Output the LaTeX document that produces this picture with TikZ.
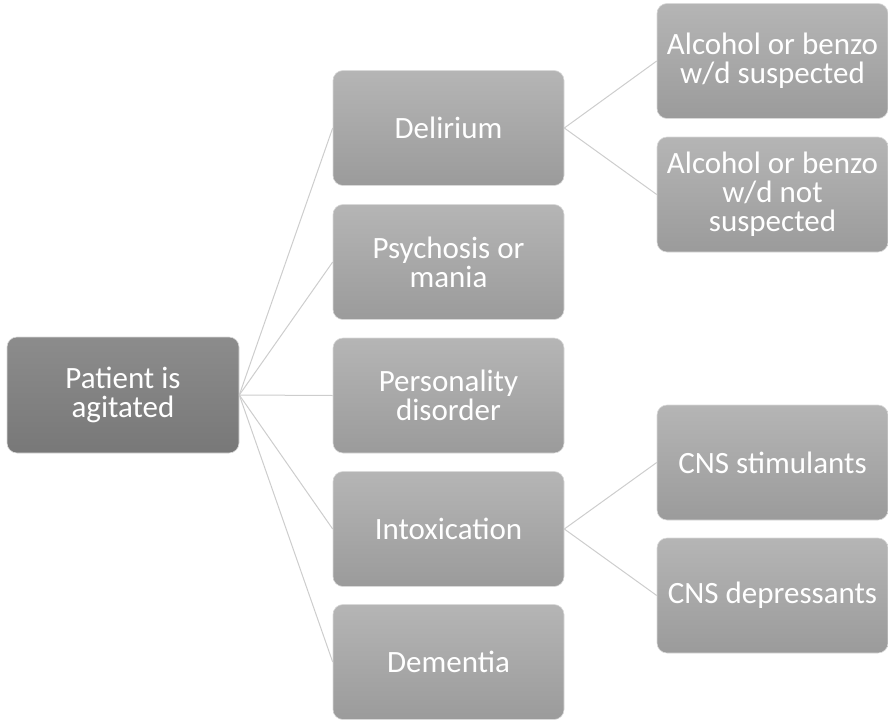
\documentclass[tikz,border=0pt]{standalone}
\usepackage{fontspec}
\setmainfont{Carlito}
\definecolor{lvlonetop}{HTML}{8C8C8C}
\definecolor{lvlonebot}{HTML}{787878}
\definecolor{lvltop}{HTML}{B5B5B5}
\definecolor{lvlbot}{HTML}{9B9B9B}
\definecolor{linkgray}{HTML}{CDCDCD}
\tikzset{
  rootbox/.style={rounded corners=10pt, top color=lvlonetop, bottom color=lvlonebot,
    draw=white!85!black, line width=0.6pt, minimum width=232pt, minimum height=116pt,
    text=white, align=center, font=\fontsize{31}{29}\selectfont, inner sep=0pt},
  childbox/.style={rootbox, top color=lvltop, bottom color=lvlbot, minimum width=231pt, minimum height=115pt},
  link/.style={draw=linkgray, line width=1pt}
}
\begin{document}
\begin{tikzpicture}[x=1pt,y=-1pt]
\useasboundingbox (0,0) rectangle (888,720);
\node[rootbox] (root) at (123,395) {Patient is\\agitated};
\node[childbox] (del) at (448.5,128) {Delirium};
\node[childbox] (psy) at (448.5,262) {Psychosis or\\mania};
\node[childbox] (per) at (448.5,395.5) {Personality\\disorder};
\node[childbox] (int) at (448.5,529) {Intoxication};
\node[childbox] (dem) at (448.5,662) {Dementia};
\node[childbox] (alc1) at (772.5,61) {Alcohol or benzo\\w/d suspected};
\node[childbox] (alc2) at (772.5,194.5) {Alcohol or benzo\\w/d not\\suspected};
\node[childbox] (stim) at (772.5,462.5) {CNS stimulants};
\node[childbox] (dep) at (772.5,595.5) {CNS depressants};
\foreach \t in {del,psy,per,int,dem} \draw[link] (root.east) -- (\t.west);
\draw[link] (del.east) -- (alc1.west);
\draw[link] (del.east) -- (alc2.west);
\draw[link] (int.east) -- (stim.west);
\draw[link] (int.east) -- (dep.west);
\end{tikzpicture}
\end{document}
